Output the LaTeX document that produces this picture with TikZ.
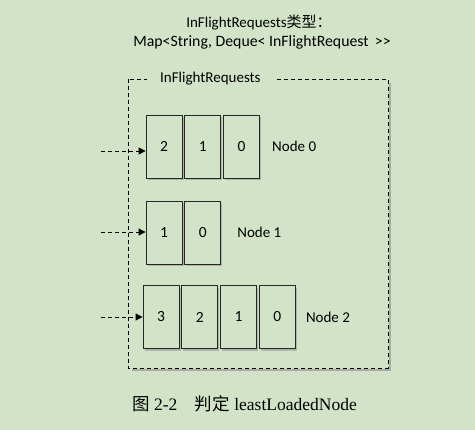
\documentclass[tikz,border=0pt]{standalone}
\usepackage{fontspec}
\setmainfont{Carlito}
\newfontfamily\cjk{Noto Sans CJK SC}
\newfontfamily\capfont{Liberation Serif}
\usepackage{tikz}
\usetikzlibrary{positioning,arrows.meta,shadows}

\definecolor{paper}{RGB}{211,227,200}

\tikzset{
  cell/.style={draw=black!85, fill=paper, line width=0.8pt,
    minimum width=36pt, minimum height=63pt, inner sep=0pt,
    font=\fontsize{15.5}{18}\selectfont,
    drop shadow={shadow xshift=1.5pt, shadow yshift=-2.5pt, opacity=0.45}},
  tag/.style={inner sep=0pt, anchor=west, font=\fontsize{15}{18}\selectfont},
  feed/.style={line width=0.8pt, dash pattern=on 4pt off 3pt,
    -{Triangle[length=7pt,width=7pt]}},
}

\begin{document}
\begin{tikzpicture}[x=1pt,y=-1pt]

  \fill[paper] (0,0) rectangle (475,430);
  \useasboundingbox (0,0) rectangle (475,430);

  % title
  \node[font=\fontsize{15}{18}\selectfont] (title) at (259,23) {InFlightRequests{\cjk 类型：}};
  \node[font=\fontsize{15.8}{18}\selectfont] (type) at (262,42) {Map<String, Deque< InFlightRequest\ \,>{}>};

  % frame
  \draw[black!45, line width=1.5pt, opacity=0.6] (390,83) -- (390,370) -- (132,370);
  \draw[line width=0.8pt, dash pattern=on 4pt off 3pt] (128,79) rectangle (388,368);
  \node[fill=paper, inner xsep=13pt, inner ysep=2pt, anchor=west,
        font=\fontsize{15}{18}\selectfont] (map) at (147,79) {InFlightRequests};

  % node 0
  \node[cell] (n0a) at (164,146.5) {2};
  \node[cell, right=2pt of n0a] (n0b) {1};
  \node[cell, right=2pt of n0b] (n0c) {0};
  \node[tag, right=12pt of n0c] (t0) {Node 0};

  % node 1
  \node[cell] (n1a) at (164,232.5) {1};
  \node[cell, right=2pt of n1a] (n1b) {0};
  \node[tag, right=16pt of n1b] (t1) {Node 1};

  % node 2
  \node[cell] (n2a) at (161,317) {3};
  \node[cell, right=2pt of n2a] (n2b) {2};
  \node[cell, right=2pt of n2b] (n2c) {1};
  \node[cell, right=2pt of n2c] (n2d) {0};
  \node[tag, right=10pt of n2d] (t2) {Node 2};

  % incoming
  \coordinate (s0) at (101,151);
  \coordinate (s1) at (101,232);
  \coordinate (s2) at (101,317);
  \draw[feed] (s0) -- (s0 -| n0a.west);
  \draw[feed] (s1) -- (s1 -| n1a.west);
  \draw[feed] (s2) -- (s2 -| n2a.west);

  % caption
  \node[font=\capfont\fontsize{17.5}{20}\selectfont] (cap) at (244.5,404)
    {{\cjk 图} 2-2\hspace{1em}{\cjk 判定} leastLoadedNode};
\end{tikzpicture}
\end{document}
